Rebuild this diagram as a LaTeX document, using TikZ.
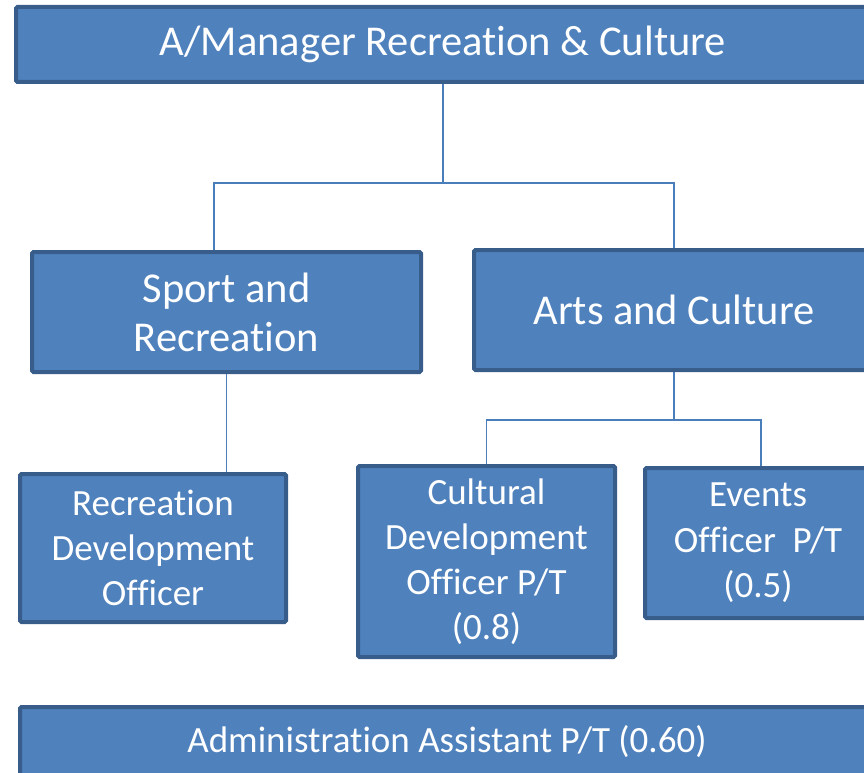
\documentclass[tikz,border=0pt]{standalone}
\usepackage{fontspec}
\setmainfont{Carlito}[Ligatures=NoCommon]
\usepackage{tikz}
\usetikzlibrary{positioning}
\definecolor{boxfill}{HTML}{4F81BD}
\definecolor{boxline}{HTML}{385D8A}
\definecolor{linkcol}{HTML}{4A7EBB}
\newcommand{\fs}[2]{\fontsize{#1}{#2}\selectfont}

\begin{document}
\begin{tikzpicture}[x=1pt, y=-1pt,
    post/.style={draw=boxline, fill=boxfill, line width=4pt, rounded corners=1.5pt,
                 text=white, align=center, inner sep=0pt},
    link/.style={draw=linkcol, line width=1.5pt}]
  \clip (0,0) rectangle (864,773);
  \fill[white] (0,0) rectangle (864,773);

  \node[post, minimum width=854pt, minimum height=75pt, font=\fs{42.5}{49}]
        (mgr) at (443,44.5) {A/Manager Recreation \& Culture};
  \node[post, minimum width=389pt, minimum height=120pt, font=\fs{42.5}{49}]
        (sport) at (226.5,312) {Sport and\\Recreation};
  \node[post, minimum width=400pt, minimum height=120pt, font=\fs{42.5}{49}]
        (arts) at (674,310) {Arts and Culture};
  \node[post, minimum width=266pt, minimum height=148pt, font=\fs{37}{45}]
        (recdev) at (153,548) {Recreation\\Development\\Officer};
  \node[post, minimum width=257pt, minimum height=191pt, font=\fs{37}{45}]
        (cult) at (486.5,561.5) {Cultural\\Development\\Officer P/T\\(0.8)};
  \node[post, minimum width=226pt, minimum height=150pt, font=\fs{37}{45.5}]
        (events) at (758,543) {Events\\Officer~ P/T\\(0.5)};
  \node[post, minimum width=854pt, minimum height=70pt, font=\fs{37}{45}]
        (admin) at (447,742) {Administration Assistant P/T (0.60)};

  \coordinate (jmgr) at (443,183);
  \coordinate (jarts) at (674,420);
  \draw[link] (mgr.south) -- (jmgr);
  \draw[link] (jmgr) -| ([xshift=-12.5pt]sport.north);
  \draw[link] (jmgr) -| (arts.north);
  \draw[link] (sport.south) -- (sport.south |- recdev.north);
  \draw[link] (arts.south) -- (jarts);
  \draw[link] (jarts) -| (cult.north);
  \draw[link] (jarts) -| ([xshift=3pt]events.north);
\end{tikzpicture}
\end{document}
